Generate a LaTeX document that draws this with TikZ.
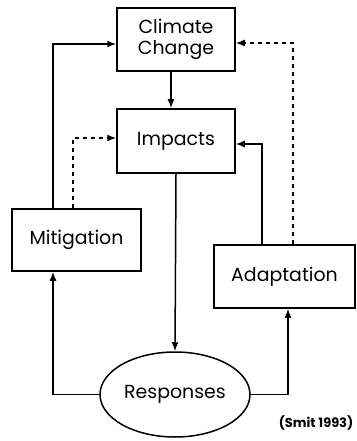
\documentclass[tikz,border=0pt]{standalone}
\usepackage{fontspec}
\setmainfont{Poppins}
\usepackage{tikz}
\usetikzlibrary{shapes.geometric, arrows.meta}

\begin{document}
\begin{tikzpicture}[x=1bp, y=-1bp, line width=1.5bp,
    box/.style={rectangle, draw, align=center, font=\fontsize{19}{21}\selectfont, inner sep=2pt},
    arr/.style={-{Latex[length=9bp, width=7bp]}},
    dsh/.style={arr, dash pattern=on 4bp off 4bp}]
     \useasboundingbox (0,0) rectangle (356,441);

     \node[box, minimum width=118bp, minimum height=63bp] (cc) at (176,39.5) {Climate\\Change};
     \node[box, minimum width=118bp, minimum height=64bp] (imp) at (176,141) {Impacts};
     \node[box, minimum width=129bp, minimum height=62bp] (mit) at (76.5,240) {Mitigation};
     \node[box, minimum width=141bp, minimum height=63bp] (ada) at (284.5,276.5) {Adaptation};
     \node[box, ellipse, minimum width=150bp, minimum height=85bp] (resp) at (175,394.5) {Responses};
     \node[font=\fontsize{13}{15}\selectfont\bfseries] (src) at (316,423) {(Smit 1993)};

     % vertical rails
     \coordinate (lsolid) at (53,0);
     \coordinate (ldash) at (73,0);
     \coordinate (rsolid) at (262,0);
     \coordinate (rdash) at (293,0);
     \coordinate (radapt) at (288,0);

     \draw[arr] ([xshift=-5bp]cc.south) -- ([xshift=-5bp]imp.north);
     \draw[arr] (imp.south) -- (resp.north);
     \draw[arr] (mit.north -| lsolid) |- ([yshift=-4.5bp]cc.west);
     \draw[dsh] (mit.north -| ldash) |- ([yshift=3bp]imp.west);
     \draw[arr] (ada.north -| rsolid) |- ([yshift=-3bp]imp.east);
     \draw[dsh] (ada.north -| rdash) |- ([yshift=-3.5bp]cc.east);
     \draw[arr] (resp.west) -| (mit.south -| lsolid);
     \draw[arr] (resp.east) -| (ada.south -| radapt);
\end{tikzpicture}
\end{document}
